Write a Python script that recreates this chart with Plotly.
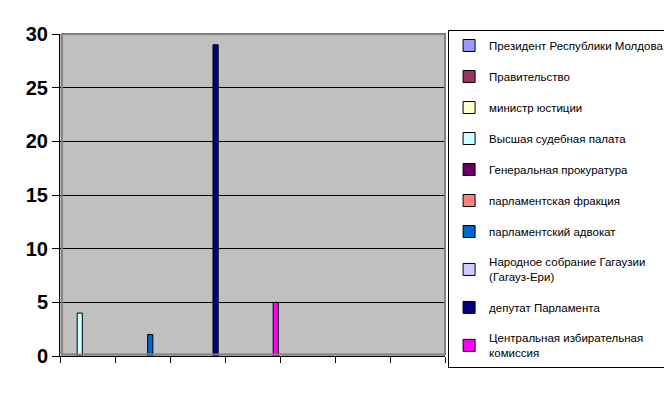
import plotly.graph_objects as go

categories = [1, 2, 3, 4, 5, 6, 7]
series_names = [
    "Президент Республики Молдова",
    "Правительство",
    "министр юстиции",
    "Высшая судебная палата",
    "Генеральная прокуратура",
    "парламентская фракция",
    "парламентский адвокат",
    "Народное собрание Гагаузии<br>(Гагауз-Ери)",
    "депутат Парламента",
    "Центральная избирательная<br>комиссия",
]
series_colors = [
    "#9999FF", "#993366", "#FFFFCC", "#CCFFFF", "#660066",
    "#FF8080", "#0066CC", "#CCCCFF", "#000080", "#FF00FF",
]
N = None
series_values = [
    [N, N, N, N, N, N, N],
    [N, N, N, N, N, N, N],
    [N, N, N, N, N, N, N],
    [4, N, N, N, N, N, N],
    [N, N, N, N, N, N, N],
    [N, N, N, N, N, N, N],
    [N, 2, N, N, N, N, N],
    [N, N, N, N, N, N, N],
    [N, N, 29, N, N, N, N],
    [N, N, N, 5, N, N, N],
]
y_ticks = [0, 5, 10, 15, 20, 25, 30]

fig = go.Figure()
for i, (name, color, vals) in enumerate(zip(series_names, series_colors, series_values)):
    fig.add_trace(go.Bar(
        x=categories, y=vals, name=name,
        marker=dict(color=color, line=dict(color="black", width=1)),
        legendgroup=f"g{i}",
    ))

fig.update_layout(
    width=664, height=386,
    margin=dict(l=52, r=227, t=26, b=38, autoexpand=False),
    paper_bgcolor="white",
    plot_bgcolor="#C0C0C0",
    barmode="group",
    bargap=0.06,
    bargroupgap=0,
    font=dict(family="Liberation Sans, Arial", color="black"),
    showlegend=True,
    legend=dict(
        x=1.008, y=1.0124, xanchor="left", yanchor="top",
        bgcolor="white", bordercolor="black", borderwidth=1,
        font=dict(size=11.5, family="Liberation Sans, Arial", color="black"),
        tracegroupgap=12,
        itemwidth=30,
        maxheight=380,
    ),
    xaxis=dict(
        range=[0.5, 7.5],
        tickvals=[0.5, 1.5, 2.5, 3.5, 4.5, 5.5, 6.5, 7.5],
        ticktext=[""] * 8,
        ticks="outside", ticklen=6, tickcolor="black",
        showgrid=False, zeroline=False,
        showline=True, linecolor="black", linewidth=1,
    ),
    yaxis=dict(
        range=[0, 30],
        tickvals=y_ticks,
        ticks="outside", ticklen=7, tickcolor="black",
        tickfont=dict(size=20, family="Liberation Sans, Arial", color="black", weight="bold"),
        showgrid=True, gridcolor="black", gridwidth=1,
        zeroline=False,
        showline=True, linecolor="black", linewidth=1,
    ),
)
fig.add_shape(type="rect", xref="paper", yref="paper", x0=0.005, x1=1, y0=0.005, y1=1,
              line=dict(color="#808080", width=2), fillcolor="rgba(0,0,0,0)", layer="above")

fig.write_html("out.html")
